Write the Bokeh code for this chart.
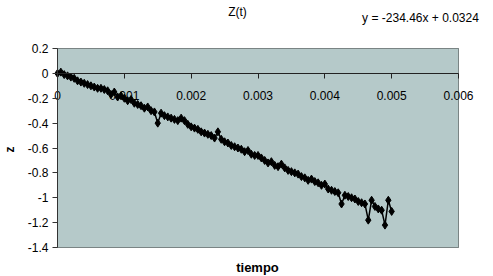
from bokeh.plotting import figure
from bokeh.models import Label, FixedTicker, ColumnDataSource
from bokeh.embed import file_html
from bokeh.resources import INLINE

# --- data ---
tiempo = [i * 0.00005 for i in range(101)]
z = [0.00, 0.01, -0.01, -0.02, -0.03, -0.04, -0.06, -0.07, -0.08, -0.09,
     -0.10, -0.11, -0.12, -0.12, -0.13, -0.14, -0.17, -0.15, -0.19, -0.18,
     -0.20, -0.22, -0.21, -0.24, -0.25, -0.26, -0.28, -0.27, -0.30, -0.31,
     -0.40, -0.32, -0.34, -0.35, -0.36, -0.37, -0.38, -0.36, -0.38, -0.41,
     -0.43, -0.44, -0.45, -0.47, -0.48, -0.49, -0.50, -0.52, -0.47, -0.53,
     -0.55, -0.56, -0.58, -0.59, -0.60, -0.61, -0.63, -0.62, -0.65, -0.66,
     -0.66, -0.68, -0.70, -0.72, -0.71, -0.74, -0.75, -0.73, -0.76, -0.78,
     -0.79, -0.80, -0.81, -0.83, -0.84, -0.86, -0.85, -0.87, -0.88, -0.90,
     -0.89, -0.93, -0.94, -0.95, -0.96, -1.05, -0.98, -0.99, -1.00, -1.01,
     -1.03, -1.04, -1.05, -1.18, -1.02, -1.07, -1.09, -1.10, -1.22, -1.02,
     -1.11]
x_ticks = [0, 0.001, 0.002, 0.003, 0.004, 0.005, 0.006]
x_tick_labels = ["0", "0.001", "0.002", "0.003", "0.004", "0.005", "0.006"]
y_ticks = [0.2, 0, -0.2, -0.4, -0.6, -0.8, -1, -1.2, -1.4]
y_tick_labels = ["0.2", "0", "-0.2", "-0.4", "-0.6", "-0.8", "-1", "-1.2", "-1.4"]
title_text = "Z(t)"
equation_text = "y = -234.46x + 0.0324"
x_label = "tiempo"
y_label = "z"

FONT = "Liberation Sans"
W, H = 493, 276
# plot-area placement inside the canvas (pixels)
LEFT, RIGHT, TOP, BOTTOM = 57, 458, 48, 247

x0, x1 = x_ticks[0], x_ticks[-1]
y0, y1 = y_ticks[-1], y_ticks[0]
sx = (RIGHT - LEFT) / (x1 - x0)
sy = (BOTTOM - TOP) / (y1 - y0)


def px_x(px):
    return x0 + (px - LEFT) / sx


def px_y(py):
    return y1 - (py - TOP) / sy


p = figure(width=W, height=H,
           x_range=(px_x(0), px_x(W)), y_range=(px_y(H), px_y(0)),
           output_backend="svg", toolbar_location=None,
           min_border=0, outline_line_color=None)
p.background_fill_color = "white"
p.border_fill_color = "white"

# plot area
p.quad(left=[x0], right=[x1], bottom=[y0], top=[y1],
       fill_color="#b5c9c9", line_color="#7a8484", line_width=1)

# grid
p.xgrid.grid_line_color = None
p.ygrid.ticker = FixedTicker(ticks=y_ticks)
p.ygrid.bounds = (y0, y1)
p.ygrid.cross_bounds = (x0, x1)
p.ygrid.grid_line_color = "#263030"
p.ygrid.grid_line_width = 1.2

# y axis at x = 0
p.yaxis.fixed_location = x0
p.yaxis.bounds = (y0, y1)
p.yaxis.ticker = FixedTicker(ticks=y_ticks)
p.yaxis.major_label_overrides = {t: l for t, l in zip(y_ticks, y_tick_labels)}
p.yaxis.major_label_text_font = FONT
p.yaxis.major_label_text_font_size = "12px"
p.yaxis.major_label_text_color = "black"
p.yaxis.major_tick_in = 0
p.yaxis.major_tick_out = 5
p.yaxis.minor_tick_line_color = None
p.yaxis.axis_line_color = "#333333"
p.yaxis.major_tick_line_color = "#333333"
p.yaxis.major_label_standoff = 4

# x axis crossing at z = 0
p.xaxis.fixed_location = 0
p.xaxis.bounds = (x0, x1)
p.xaxis.ticker = FixedTicker(ticks=x_ticks)
p.xaxis.major_label_overrides = {t: l for t, l in zip(x_ticks, x_tick_labels)}
p.xaxis.major_label_text_font = FONT
p.xaxis.major_label_text_font_size = "12px"
p.xaxis.major_label_text_color = "black"
p.xaxis.major_tick_in = 0
p.xaxis.major_tick_out = 5
p.xaxis.minor_tick_line_color = None
p.xaxis.axis_line_color = "#222222"
p.xaxis.major_tick_line_color = "#222222"
p.xaxis.major_label_standoff = 13

# series
src = ColumnDataSource(dict(t=tiempo, z=z))
p.line("t", "z", source=src, line_color="black", line_width=1.5)
p.scatter("t", "z", source=src, marker="diamond", size=8,
          fill_color="black", line_color="black")

# texts
p.add_layout(Label(x=px_x(237), y=px_y(11), text=title_text, text_font=FONT,
                   text_font_size="12px", text_align="center",
                   text_baseline="middle", text_color="black"))
p.add_layout(Label(x=px_x(420), y=px_y(17), text=equation_text, text_font=FONT,
                   text_font_size="12px", text_align="center",
                   text_baseline="middle", text_color="black"))
p.add_layout(Label(x=px_x(257), y=px_y(267), text=x_label, text_font=FONT,
                   text_font_size="13px", text_font_style="bold",
                   text_align="center", text_baseline="middle",
                   text_color="black"))
p.add_layout(Label(x=px_x(9), y=px_y(149), text=y_label, text_font=FONT,
                   text_font_size="12px", text_font_style="bold",
                   angle=1.5708, text_align="center",
                   text_baseline="middle", text_color="black"))

open("out.html", "w").write(file_html(p, INLINE))
